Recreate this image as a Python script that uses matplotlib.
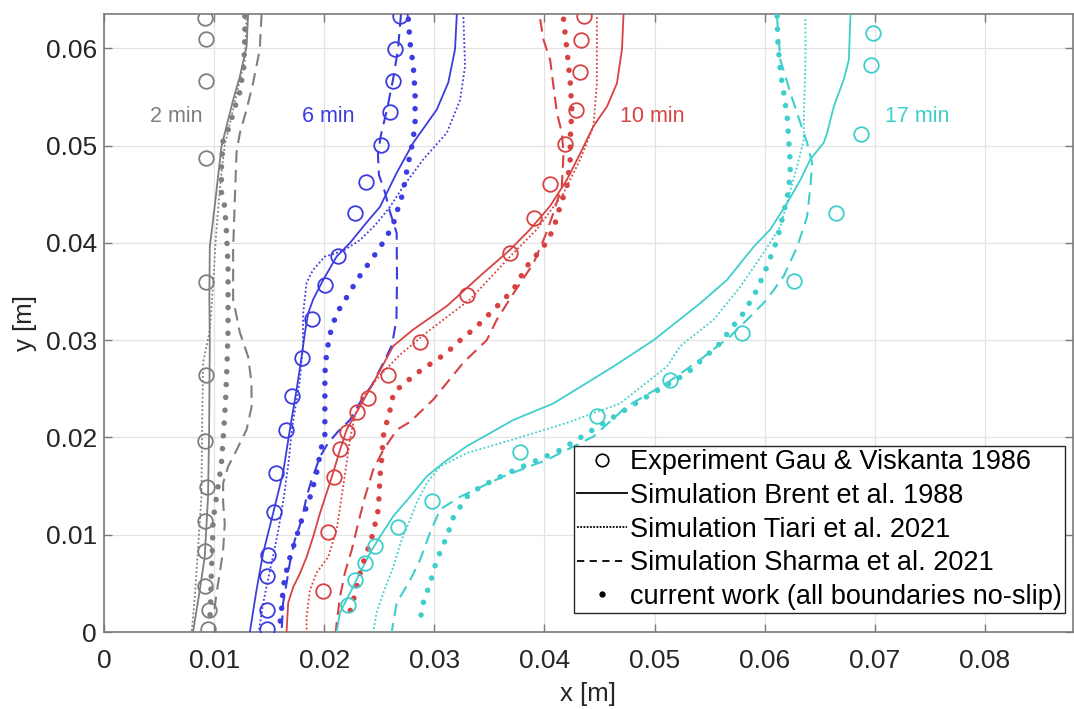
import matplotlib
matplotlib.use("Agg")
import matplotlib.pyplot as plt
from matplotlib.lines import Line2D

plt.rcParams['font.family'] = ['Liberation Sans', 'DejaVu Sans']

# ---------------- data (metres) ----------------
times = ['2 min', '6 min', '10 min', '17 min']
colors = ['#7f7f7f', '#3c3ce0', '#d84242', '#3ecfcc']
label_pos_x = [0.00421, 0.01795, 0.04682, 0.07097]
label_pos_y = [0.0530, 0.0530, 0.0530, 0.0530]

# Experiment Gau & Viskanta 1986
exp2_x = [0.00922, 0.00925, 0.00931, 0.00931, 0.00931, 0.00931, 0.00922, 0.00936, 0.00922, 0.00913, 0.00922, 0.00952, 0.00943]
exp2_y = [0.0631, 0.0610, 0.0566, 0.0487, 0.0360, 0.0264, 0.0196, 0.0149, 0.0114, 0.0083, 0.0047, 0.0023, 0.0003]
exp6_x = [0.02688, 0.02643, 0.02622, 0.02597, 0.02515, 0.02376, 0.02279, 0.02122, 0.02006, 0.01885, 0.01795, 0.01704, 0.01649, 0.01561, 0.01543, 0.01491, 0.01485, 0.01476, 0.01476]
exp6_y = [0.0633, 0.0599, 0.0566, 0.0535, 0.0501, 0.0463, 0.0431, 0.0387, 0.0357, 0.0322, 0.0282, 0.0243, 0.0208, 0.0163, 0.0123, 0.0079, 0.0058, 0.0023, 0.0003]
exp10_x = [0.04355, 0.04334, 0.04325, 0.04288, 0.04188, 0.04052, 0.03906, 0.03688, 0.03300, 0.02870, 0.02582, 0.02400, 0.02295, 0.02204, 0.02143, 0.02091, 0.02036, 0.01985]
exp10_y = [0.0633, 0.0609, 0.0576, 0.0537, 0.0502, 0.0461, 0.0426, 0.0390, 0.0346, 0.0298, 0.0264, 0.0241, 0.0226, 0.0206, 0.0188, 0.0159, 0.0103, 0.0042]
exp17_x = [0.06982, 0.06967, 0.06876, 0.06643, 0.06270, 0.05795, 0.05143, 0.04476, 0.03779, 0.02976, 0.02673, 0.02461, 0.02370, 0.02279, 0.02218]
exp17_y = [0.0616, 0.0583, 0.0512, 0.0431, 0.0361, 0.0307, 0.0259, 0.0222, 0.0185, 0.0135, 0.0108, 0.0088, 0.0071, 0.0053, 0.0028]

# Simulation Brent et al. 1988
brent2_x = [0.01309, 0.01295, 0.01234, 0.01173, 0.01113, 0.01067, 0.01036, 0.01006, 0.00976, 0.00961, 0.00957, 0.00961, 0.00955, 0.00945, 0.00915, 0.00870, 0.00809]
brent2_y = [0.0635, 0.0602, 0.0571, 0.0547, 0.0520, 0.0499, 0.0468, 0.0438, 0.0410, 0.0396, 0.0342, 0.0300, 0.0208, 0.0139, 0.0077, 0.0043, 0.0]
brent6_x = [0.03204, 0.03188, 0.03127, 0.03022, 0.02809, 0.02658, 0.02506, 0.02385, 0.02234, 0.02113, 0.01991, 0.01900, 0.01855, 0.01825, 0.01795, 0.01749, 0.01688, 0.01627, 0.01536, 0.01445, 0.01385, 0.01325]
brent6_y = [0.0635, 0.0599, 0.0565, 0.0537, 0.0503, 0.0472, 0.0437, 0.0421, 0.0400, 0.0386, 0.0362, 0.0342, 0.0328, 0.0308, 0.0283, 0.0249, 0.0208, 0.0164, 0.0122, 0.0081, 0.0043, 0.0]
brent10_x = [0.04718, 0.04704, 0.04658, 0.04567, 0.04445, 0.04325, 0.04204, 0.04052, 0.03870, 0.03688, 0.03415, 0.03113, 0.02809, 0.02627, 0.02445, 0.02325, 0.02204, 0.02143, 0.02082, 0.02022, 0.01961, 0.01900, 0.01840, 0.01779, 0.01718, 0.01673, 0.01658]
brent10_y = [0.0635, 0.0599, 0.0564, 0.0540, 0.0520, 0.0492, 0.0465, 0.0438, 0.0414, 0.0393, 0.0366, 0.0335, 0.0311, 0.0294, 0.0256, 0.0232, 0.0208, 0.0187, 0.0164, 0.0143, 0.0122, 0.0098, 0.0077, 0.0060, 0.0046, 0.0030, 0.0]
brent17_x = [0.06779, 0.06764, 0.06718, 0.06627, 0.06567, 0.06536, 0.06415, 0.06325, 0.06204, 0.06052, 0.05900, 0.05658, 0.05415, 0.04991, 0.04627, 0.04082, 0.03718, 0.03295, 0.03082, 0.02931, 0.02779, 0.02627, 0.02506, 0.02415, 0.02325, 0.02234, 0.02143, 0.02113]
brent17_y = [0.0635, 0.0588, 0.0568, 0.0540, 0.0513, 0.0503, 0.0486, 0.0465, 0.0441, 0.0414, 0.0396, 0.0362, 0.0338, 0.0300, 0.0273, 0.0235, 0.0218, 0.0191, 0.0174, 0.0160, 0.0139, 0.0119, 0.0098, 0.0081, 0.0061, 0.0040, 0.0020, 0.0]

# Simulation Tiari et al. 2021
tiari2_x = [0.01295, 0.01279, 0.01215, 0.01152, 0.01097, 0.01070, 0.01043, 0.01015, 0.00988, 0.00961, 0.00900, 0.00891, 0.00885, 0.00855, 0.00825, 0.00797]
tiari2_y = [0.0635, 0.0588, 0.0558, 0.0527, 0.0501, 0.0475, 0.0444, 0.0403, 0.0352, 0.0310, 0.0277, 0.0208, 0.0139, 0.0087, 0.0036, 0.0]
tiari6_x = [0.03264, 0.03279, 0.03234, 0.03113, 0.02900, 0.02718, 0.02597, 0.02461, 0.02325, 0.02188, 0.02097, 0.02006, 0.01897, 0.01840, 0.01809, 0.01806, 0.01779, 0.01734, 0.01706, 0.01676, 0.01634, 0.01584, 0.01534, 0.01488, 0.01443, 0.01406]
tiari6_y = [0.0632, 0.0582, 0.0547, 0.0513, 0.0486, 0.0458, 0.0437, 0.0418, 0.0403, 0.0393, 0.0389, 0.0386, 0.0372, 0.0359, 0.0328, 0.0293, 0.0259, 0.0228, 0.0208, 0.0174, 0.0139, 0.0105, 0.0077, 0.0053, 0.0028, 0.0]
tiari10_x = [0.04476, 0.04476, 0.04445, 0.04325, 0.04173, 0.03931, 0.03688, 0.03325, 0.02931, 0.02688, 0.02506, 0.02370, 0.02279, 0.02234, 0.02204, 0.02158, 0.02113, 0.02036, 0.01931, 0.01870, 0.01840, 0.01840]
tiari10_y = [0.0632, 0.0565, 0.0520, 0.0486, 0.0451, 0.0414, 0.0386, 0.0342, 0.0308, 0.0285, 0.0264, 0.0244, 0.0223, 0.0198, 0.0174, 0.0139, 0.0105, 0.0077, 0.0061, 0.0043, 0.0015, 0.0]
tiari17_x = [0.06370, 0.06370, 0.06355, 0.06355, 0.06295, 0.06218, 0.06143, 0.05991, 0.05779, 0.05536, 0.05234, 0.05113, 0.04688, 0.04204, 0.03718, 0.03295, 0.03052, 0.02931, 0.02840, 0.02779, 0.02704, 0.02627, 0.02536, 0.02476, 0.02445]
tiari17_y = [0.0630, 0.0582, 0.0530, 0.0506, 0.0479, 0.0448, 0.0417, 0.0390, 0.0355, 0.0321, 0.0294, 0.0273, 0.0235, 0.0215, 0.0198, 0.0184, 0.0170, 0.0153, 0.0133, 0.0115, 0.0095, 0.0067, 0.0040, 0.0020, 0.0]

# Simulation Sharma et al. 2021
sharma2_x = [0.01431, 0.01415, 0.01355, 0.01295, 0.01234, 0.01204, 0.01188, 0.01173, 0.01173, 0.01234, 0.01309, 0.01340, 0.01340, 0.01295, 0.01204, 0.01127, 0.01082, 0.01082, 0.01097, 0.01082, 0.01052, 0.01022, 0.00997]
sharma2_y = [0.0635, 0.0599, 0.0565, 0.0537, 0.0513, 0.0493, 0.0444, 0.0393, 0.0342, 0.0308, 0.0283, 0.0256, 0.0231, 0.0208, 0.0187, 0.0170, 0.0153, 0.0133, 0.0112, 0.0084, 0.0061, 0.0040, 0.0017]
sharma6_x = [0.02697, 0.02670, 0.02625, 0.02570, 0.02515, 0.02488, 0.02497, 0.02552, 0.02597, 0.02658, 0.02661, 0.02656, 0.02615, 0.02552, 0.02434, 0.02325, 0.02234, 0.02125, 0.02034, 0.01961, 0.01885, 0.01840, 0.01795, 0.01734, 0.01688, 0.01658, 0.01627, 0.01613]
sharma6_y = [0.0635, 0.0599, 0.0568, 0.0537, 0.0511, 0.0491, 0.0470, 0.0452, 0.0432, 0.0410, 0.0362, 0.0321, 0.0295, 0.0280, 0.0254, 0.0236, 0.0218, 0.0206, 0.0194, 0.0180, 0.0156, 0.0139, 0.0115, 0.0095, 0.0071, 0.0050, 0.0030, 0.0]
sharma10_x = [0.03961, 0.03991, 0.04052, 0.04082, 0.04113, 0.04158, 0.04173, 0.04158, 0.04082, 0.04006, 0.03900, 0.03718, 0.03567, 0.03476, 0.03264, 0.02991, 0.02779, 0.02661, 0.02536, 0.02445, 0.02370, 0.02309, 0.02249, 0.02188, 0.02143, 0.02113, 0.02106]
sharma10_y = [0.0630, 0.0609, 0.0588, 0.0561, 0.0534, 0.0513, 0.0492, 0.0458, 0.0431, 0.0407, 0.0379, 0.0348, 0.0321, 0.0300, 0.0277, 0.0239, 0.0216, 0.0208, 0.0187, 0.0167, 0.0139, 0.0112, 0.0084, 0.0061, 0.0036, 0.0009, 0.0]
sharma17_x = [0.06113, 0.06143, 0.06234, 0.06325, 0.06385, 0.06431, 0.06415, 0.06385, 0.06295, 0.06173, 0.06022, 0.05840, 0.05688, 0.05415, 0.05113, 0.04749, 0.04445, 0.04022, 0.03627, 0.03234, 0.03052, 0.02961, 0.02870, 0.02779, 0.02658, 0.02613]
sharma17_y = [0.0630, 0.0588, 0.0554, 0.0523, 0.0503, 0.0482, 0.0458, 0.0427, 0.0396, 0.0366, 0.0342, 0.0321, 0.0304, 0.0280, 0.0256, 0.0232, 0.0201, 0.0177, 0.0160, 0.0139, 0.0126, 0.0102, 0.0074, 0.0053, 0.0030, 0.0]

# current work (all boundaries no-slip)
cur2_x = [0.01279, 0.01279, 0.01270, 0.01234, 0.01173, 0.01143, 0.01082, 0.01067, 0.01067, 0.01097, 0.01113, 0.01127, 0.01127, 0.01127, 0.01118, 0.01106, 0.01088, 0.01067, 0.01045, 0.01022, 0.00991, 0.00985, 0.00976, 0.00970, 0.00961]
cur2_y = [0.0633, 0.0612, 0.0581, 0.0555, 0.0534, 0.0520, 0.0506, 0.0478, 0.0452, 0.0437, 0.0410, 0.0376, 0.0342, 0.0311, 0.0277, 0.0242, 0.0208, 0.0174, 0.0156, 0.0139, 0.0115, 0.0087, 0.0064, 0.0036, 0.0012]
cur6_x = [0.02764, 0.02779, 0.02809, 0.02825, 0.02825, 0.02795, 0.02764, 0.02734, 0.02718, 0.02673, 0.02643, 0.02567, 0.02491, 0.02431, 0.02340, 0.02234, 0.02173, 0.02113, 0.02052, 0.02022, 0.02006, 0.02006, 0.02006, 0.01961, 0.01945, 0.01885, 0.01795, 0.01718, 0.01673, 0.01627, 0.01613, 0.01597]
cur6_y = [0.0630, 0.0606, 0.0582, 0.0555, 0.0520, 0.0499, 0.0482, 0.0465, 0.0452, 0.0437, 0.0424, 0.0406, 0.0393, 0.0383, 0.0369, 0.0350, 0.0338, 0.0328, 0.0306, 0.0287, 0.0266, 0.0231, 0.0203, 0.0184, 0.0170, 0.0143, 0.0115, 0.0087, 0.0071, 0.0046, 0.0023, 0.0007]
cur10_x = [0.04173, 0.04204, 0.04234, 0.04249, 0.04234, 0.04234, 0.04204, 0.04143, 0.04082, 0.03991, 0.03840, 0.03718, 0.03536, 0.03385, 0.03204, 0.03113, 0.02840, 0.02627, 0.02613, 0.02582, 0.02536, 0.02522, 0.02506, 0.02500, 0.02491, 0.02445, 0.02385, 0.02340, 0.02295, 0.02249, 0.02204]
cur10_y = [0.0630, 0.0599, 0.0565, 0.0537, 0.0506, 0.0486, 0.0458, 0.0438, 0.0414, 0.0396, 0.0376, 0.0352, 0.0331, 0.0314, 0.0297, 0.0287, 0.0266, 0.0246, 0.0234, 0.0222, 0.0201, 0.0177, 0.0160, 0.0143, 0.0126, 0.0102, 0.0081, 0.0067, 0.0046, 0.0026, 0.0012]
cur17_x = [0.06113, 0.06118, 0.06143, 0.06173, 0.06204, 0.06218, 0.06234, 0.06218, 0.06173, 0.06113, 0.06022, 0.05931, 0.05809, 0.05688, 0.05597, 0.05295, 0.04931, 0.04627, 0.04143, 0.03658, 0.03415, 0.03295, 0.03173, 0.03113, 0.03022, 0.02961, 0.02900, 0.02870]
cur17_y = [0.0633, 0.0609, 0.0575, 0.0554, 0.0530, 0.0506, 0.0479, 0.0455, 0.0431, 0.0403, 0.0376, 0.0352, 0.0328, 0.0311, 0.0297, 0.0266, 0.0242, 0.0221, 0.0187, 0.0163, 0.0149, 0.0139, 0.0118, 0.0098, 0.0074, 0.0050, 0.0030, 0.0012]

x_ticks = [0, 0.01, 0.02, 0.03, 0.04, 0.05, 0.06, 0.07, 0.08]
y_ticks = [0, 0.01, 0.02, 0.03, 0.04, 0.05, 0.06]
legend_labels = ['Experiment Gau & Viskanta 1986', 'Simulation Brent et al. 1988',
                 'Simulation Tiari et al. 2021', 'Simulation Sharma et al. 2021',
                 'current work (all boundaries no-slip)']

exp_sets = [(exp2_x, exp2_y), (exp6_x, exp6_y), (exp10_x, exp10_y), (exp17_x, exp17_y)]
brent_sets = [(brent2_x, brent2_y), (brent6_x, brent6_y), (brent10_x, brent10_y), (brent17_x, brent17_y)]
tiari_sets = [(tiari2_x, tiari2_y), (tiari6_x, tiari6_y), (tiari10_x, tiari10_y), (tiari17_x, tiari17_y)]
sharma_sets = [(sharma2_x, sharma2_y), (sharma6_x, sharma6_y), (sharma10_x, sharma10_y), (sharma17_x, sharma17_y)]
cur_sets = [(cur2_x, cur2_y), (cur6_x, cur6_y), (cur10_x, cur10_y), (cur17_x, cur17_y)]

# ---------------- figure ----------------
fig = plt.figure(figsize=(10.74, 7.09), dpi=100)
ax = fig.add_axes([0.0968, 0.1086, 0.9023, 0.8712])

dash_style = (0, (6, 3.5))
dot_style = (0, (1, 1.3))
cur_style = (0, (0.01, 2.3))

for i, c in enumerate(colors):
    bx, by = brent_sets[i]
    ax.plot(bx, by, color=c, lw=1.3, zorder=3)
    tx, ty = tiari_sets[i]
    ax.plot(tx, ty, color=c, lw=1.3, linestyle=dot_style, zorder=3)
    sx, sy = sharma_sets[i]
    ax.plot(sx, sy, color=c, lw=1.5, linestyle=dash_style, zorder=3)
    cx, cy = cur_sets[i]
    ax.plot(cx, cy, color=c, lw=4.0, linestyle=cur_style, dash_capstyle='round', zorder=4)
    ex, ey = exp_sets[i]
    ax.plot(ex, ey, linestyle='none', marker='o', ms=10.5, mfc='none', mec=c, mew=1.3, zorder=5)
    ax.text(label_pos_x[i], label_pos_y[i], times[i], color=c, fontsize=15.5,
            ha='left', va='center', zorder=6)

ax.set_xlim(0, 0.088)
ax.set_ylim(0, 0.0635)
ax.set_xticks(x_ticks)
ax.set_yticks(y_ticks)
ax.set_xticklabels([f"{v:g}" for v in x_ticks])
ax.set_yticklabels([f"{v:g}" for v in y_ticks])
ax.grid(True, color='#e3e3e3', lw=0.9, zorder=0)
ax.set_axisbelow(True)
for s in ax.spines.values():
    s.set_color('#7a7a7a')
    s.set_linewidth(1.2)
ax.tick_params(direction='in', length=6, width=1.0, color='#7a7a7a',
               top=True, right=True, labelsize=19, labelcolor='#262626')
ax.tick_params(axis='x', pad=12)
ax.tick_params(axis='y', pad=5)
ax.set_xlabel('x [m]', fontsize=18.5, color='#262626', labelpad=7)
ax.set_ylabel('y [m]', fontsize=18.5, color='#262626', labelpad=6)

handles = [
    Line2D([], [], linestyle='none', marker='o', ms=9, mfc='none', mec='k', mew=1.2),
    Line2D([], [], color='k', lw=1.3),
    Line2D([], [], color='k', lw=1.3, linestyle=(0, (1, 0.8))),
    Line2D([], [], color='k', lw=1.3, linestyle=(0, (4, 3))),
    Line2D([], [], linestyle='none', marker='.', ms=7, color='k'),
]
leg = ax.legend(handles, legend_labels, loc='lower right', bbox_to_anchor=(0.9917, 0.0308),
                borderaxespad=0, fontsize=19.5, frameon=True, fancybox=False,
                edgecolor='#262626', framealpha=1, handlelength=1.85, handletextpad=0.1,
                borderpad=0.12, labelspacing=0.28)
leg.get_frame().set_linewidth(1.0)

fig.savefig('out.png', dpi=100)
